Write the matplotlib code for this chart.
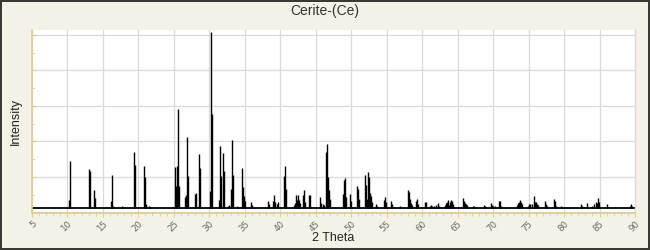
import numpy as np
import matplotlib
matplotlib.use("Agg")
import matplotlib.pyplot as plt
from matplotlib.ticker import MultipleLocator

# peak positions (2 theta, degrees) and intensities
two_theta = [
    10.24, 10.38, 13.10, 13.24, 13.80, 13.94, 16.20, 16.34, 16.48, 17.75, 17.89,
    19.44, 19.58, 20.85, 20.99, 21.13, 21.55, 21.69,
    25.21, 25.35, 25.49, 25.63, 25.77, 26.62, 26.76, 26.90, 27.04,
    28.03, 28.17, 28.59, 28.73, 30.14, 30.28, 30.42,
    31.41, 31.55, 31.69, 31.97, 32.11, 32.68, 32.82,
    33.10, 33.24, 33.38, 33.94, 34.08, 34.65, 34.79, 34.93, 35.07,
    35.92, 36.06, 36.34, 38.31, 38.45, 39.01, 39.15, 39.30, 39.58, 39.72,
    40.56, 40.70, 40.85, 41.97, 42.11, 42.25, 42.39, 42.54, 42.68, 42.82,
    43.24, 43.38, 43.52, 44.08, 44.23, 45.63, 45.77, 46.06, 46.20,
    46.48, 46.62, 46.76, 46.90, 47.04, 48.87, 49.01, 49.15, 49.30, 49.86, 50.00,
    50.85, 50.99, 51.13, 51.97, 52.11, 52.25, 52.39, 52.54, 52.68, 52.82, 52.96,
    53.52, 53.66, 54.65, 54.79, 54.93, 55.63, 55.77, 56.90,
    58.03, 58.17, 58.31, 58.45, 58.59, 59.15, 59.30, 59.44, 60.42, 60.56,
    61.13, 61.27, 61.41, 61.69, 61.97, 62.25, 62.39,
    63.24, 63.38, 63.52, 63.66, 63.80, 63.94, 64.08, 64.23, 64.37,
    65.77, 65.92, 66.06, 66.20, 66.34, 67.18, 67.32, 68.73, 68.87,
    69.72, 69.86, 70.00, 70.28, 70.85, 70.99, 71.13, 71.69,
    73.38, 73.52, 73.66, 73.80, 73.94, 74.08,
    74.93, 75.07, 75.21, 75.49, 75.77, 75.92, 76.06, 76.20, 76.34,
    77.32, 77.46, 77.61, 78.59, 78.73, 78.87, 79.58, 79.72, 80.42, 80.70,
    82.39, 82.54, 83.24, 83.94, 84.23, 84.51, 84.65, 84.79, 84.93, 86.06,
    89.30, 89.44, 89.58,
]
intensity = [
    47, 269, 223, 214, 104, 58, 41, 189, 13, 13, 8,
    320, 246, 240, 178, 25, 13, 8,
    233, 127, 239, 564, 127, 64, 75, 405, 183,
    81, 86, 308, 228, 98, 1000, 536,
    47, 354, 183, 314, 211, 13, 19,
    110, 390, 189, 13, 8, 228, 121, 70, 41,
    36, 19, 8, 41, 25, 41, 75, 36, 25, 36,
    183, 240, 110, 19, 30, 75, 47, 75, 47, 30,
    75, 104, 36, 75, 75, 64, 30, 25, 19,
    320, 366, 178, 104, 53, 81, 160, 171, 63, 81, 41,
    127, 110, 53, 189, 132, 53, 206, 178, 87, 70, 36,
    25, 13, 47, 64, 36, 41, 25, 13,
    104, 93, 53, 30, 19, 41, 53, 25, 36, 36,
    13, 19, 13, 13, 19, 30, 13,
    19, 30, 36, 47, 19, 36, 47, 41, 25,
    58, 41, 30, 25, 19, 13, 13, 19, 13,
    30, 19, 13, 13, 41, 41, 13, 8,
    19, 30, 36, 47, 36, 25,
    13, 25, 25, 25, 70, 36, 36, 25, 19,
    41, 25, 13, 53, 41, 13, 13, 8, 8, 8,
    25, 13, 30, 13, 25, 36, 30, 58, 36, 25,
    13, 25, 13,
]

bg = "#F4F2E6"
axis_col = "#D8D094"
grid_col = "#DADADA"

fig = plt.figure(figsize=(6.5, 2.5), dpi=100, facecolor=bg,
                 edgecolor="#3A3A34", linewidth=1.6)
ax = fig.add_axes([0.049, 0.15, 0.928, 0.73])
ax.set_facecolor("white")

ax.vlines(two_theta, 0, intensity, color="black", linewidth=1.0)
ax.axhline(0, color="black", linewidth=1.3)

ax.set_xlim(5, 90)
ax.set_ylim(-24, 1013)
ax.xaxis.set_major_locator(MultipleLocator(5))
ax.xaxis.set_minor_locator(MultipleLocator(1))
ax.set_yticks(np.arange(-24, 1013, 202))
ax.set_yticks(np.arange(77, 1013, 202), minor=True)
ax.set_yticklabels([])
ax.grid(True, which="major", color=grid_col, linewidth=0.9)
ax.set_axisbelow(True)

for s in ["left", "bottom"]:
    ax.spines[s].set_color(axis_col)
    ax.spines[s].set_linewidth(1.2)
ax.spines["top"].set_visible(False)
ax.spines["right"].set_color(grid_col)
ax.spines["right"].set_linewidth(1.0)

ax.tick_params(axis="x", which="both", direction="out", color=axis_col,
               labelsize=6.2, labelcolor="#666666", pad=2)
ax.tick_params(axis="x", which="major", length=3)
ax.tick_params(axis="x", which="minor", length=2.5)
ax.tick_params(axis="y", which="both", direction="in", color=axis_col)
ax.tick_params(axis="y", which="major", length=3)
ax.tick_params(axis="y", which="minor", length=2.5)
plt.setp(ax.get_xticklabels(), rotation=45, ha="right", rotation_mode="anchor")

ax.set_xlabel("2 Theta", fontsize=9, color="#222222", family="Liberation Sans")
ax.xaxis.set_label_coords(0.5, -0.105)
ax.set_ylabel("Intensity", fontsize=9, color="#222222", family="Liberation Sans")
ax.yaxis.set_label_coords(-0.016, 0.5)
fig.text(0.5, 0.958, "Cerite-(Ce)", ha="center", va="center", fontsize=10,
         color="#333333", family="Liberation Sans")

fig.savefig("out.png", dpi=100, facecolor=bg, edgecolor="#3A3A34")
